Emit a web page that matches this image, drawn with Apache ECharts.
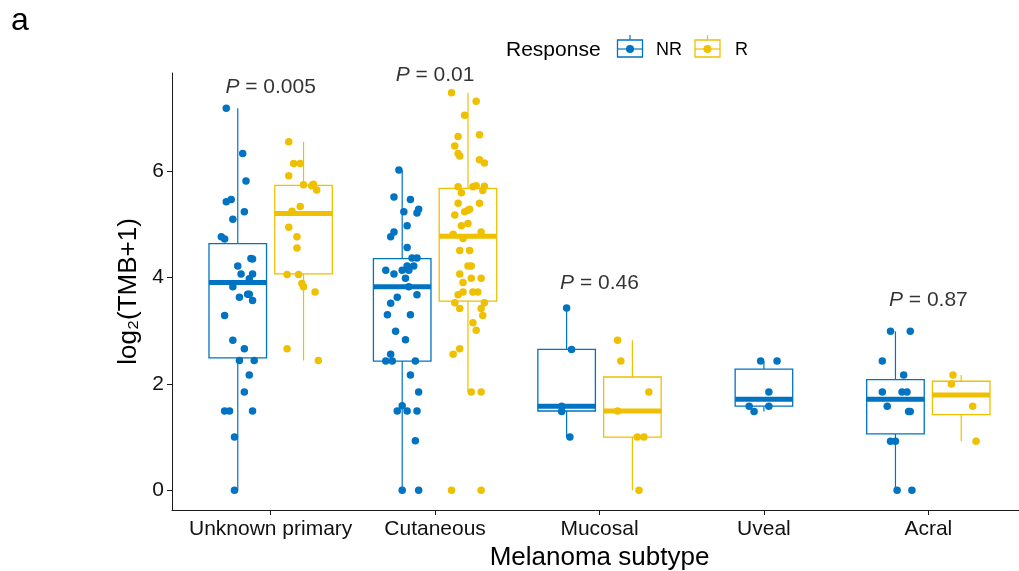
<!DOCTYPE html>
<html><head><meta charset="utf-8">
<script src="https://cdn.jsdelivr.net/npm/echarts@6/dist/echarts.min.js"></script>
<style>html,body{margin:0;padding:0;background:#fff}#c{width:1019px;height:571px}</style>
</head><body><div id="c"></div>
<script>
// ---------------- data ----------------
const categories = ['Unknown primary', 'Cutaneous', 'Mucosal', 'Uveal', 'Acral'];
const yTicks = [0, 2, 4, 6];
const groups = ['NR', 'R'];

// box stats per category: [min(whisker), Q1, median, Q3, max(whisker)]
const nrBoxStats = [
  [0, 2.49, 3.91, 4.64, 7.19],
  [0, 2.43, 3.83, 4.36, 6.03],
  [1.00, 1.49, 1.58, 2.65, 3.43],
  [1.48, 1.58, 1.71, 2.28, 2.43],
  [0, 1.06, 1.71, 2.08, 2.99]
];
const rBoxStats = [
  [2.44, 4.07, 5.21, 5.74, 6.56],
  [1.85, 3.56, 4.78, 5.68, 7.48],
  [0, 1.00, 1.49, 2.13, 2.82],
  null,
  [0.92, 1.42, 1.79, 2.05, 2.17]
];

// individual observations, log2(TMB+1)
const nrValues = [
  [7.19,6.34,5.82,5.43,5.47,5.24,5.10,4.77,4.73,4.36,4.35,4.22,4.07,4.07,3.98,3.83,3.63,3.69,3.69,3.57,3.29,2.82,2.66,2.44,2.44,2.17,1.85,1.49,1.49,1.49,1.00,0],
  [6.03,5.52,5.47,5.24,5.29,5.22,4.98,4.86,4.77,4.57,4.37,4.37,4.22,4.22,4.14,4.07,4.14,4.14,3.99,3.83,3.68,3.63,3.52,3.30,3.30,2.99,2.83,2.56,2.43,2.43,2.43,2.17,1.85,1.59,1.49,1.49,1.49,0.93,0,0],
  [3.43,2.65,1.58,1.48,1.00],
  [2.43,2.43,1.85,1.58,1.58,1.48],
  [2.99,2.99,2.43,2.17,1.85,1.85,1.85,1.58,1.48,1.48,0.92,0.92,0,0]
];
const rValues = [
  [6.56,6.15,6.15,5.92,5.75,5.76,5.73,5.65,5.34,5.25,4.95,4.77,4.56,4.06,4.06,3.89,3.83,3.73,2.66,2.44],
  [7.48,7.32,7.06,6.66,6.69,6.48,6.34,6.29,6.22,6.16,5.71,5.71,5.73,5.72,5.60,5.64,5.40,5.40,5.27,5.24,5.29,5.18,4.98,5.02,4.82,4.74,4.86,4.51,4.51,4.22,4.22,4.07,3.99,3.99,3.91,3.68,3.73,3.73,3.73,3.53,3.42,3.53,3.42,3.29,3.15,3.01,2.66,2.56,1.85,1.85,0,0],
  [2.82,2.43,1.85,1.49,1.00,1.00,0],
  [],
  [2.17,2.00,1.58,0.92]
];
// horizontal jitter of each observation (fraction of a category slot)
const nrJitter = [
  [-0.07,0.03,0.05,-0.07,-0.04,0.04,-0.03,-0.10,-0.08,0.08,0.09,0,0.02,0.09,0.07,-0.03,0.01,0.06,0.07,0.09,-0.08,-0.03,0.04,0.01,0.10,0.07,0.04,-0.08,-0.05,0.09,-0.02,-0.02],
  [-0.02,-0.05,0.05,0.01,0.10,0.09,0.03,-0.05,-0.07,0.03,0.06,0.09,0.03,0.07,-0.10,-0.05,0,0.04,0.02,0.04,0.09,-0.03,-0.07,-0.09,0.05,-0.04,0.02,-0.07,-0.10,-0.06,0.08,0.05,0.10,0,-0.03,0.03,0.09,0.08,0,0.10],
  [0,0.03,-0.03,-0.03,0.02],
  [-0.02,0.08,0.03,-0.09,0.03,-0.06],
  [-0.03,0.09,-0.08,0.05,-0.08,0.04,0.07,-0.05,0.08,0.09,-0.03,0,0.01,0.10]
];
const rJitter = [
  [-0.09,-0.06,-0.02,-0.09,0,0.06,0.05,0.08,-0.02,-0.07,-0.09,-0.04,-0.04,-0.10,-0.03,-0.01,0,0.07,-0.10,0.09],
  [-0.10,0.05,-0.02,-0.06,0.07,-0.08,-0.06,-0.05,0.07,0.10,-0.06,0.03,0.05,0.10,-0.04,0.09,-0.06,0.07,0,-0.02,0.01,-0.08,-0.04,0,-0.09,-0.03,0.08,-0.05,0.01,0,0.02,-0.05,0.02,0.08,-0.03,-0.06,-0.03,0.03,0.06,-0.08,-0.05,0.10,0.08,0.09,0.03,0.05,-0.05,-0.09,0.02,0.08,-0.10,0.08],
  [-0.09,-0.07,0.10,-0.09,0.03,0.07,0.04],
  [],
  [-0.05,-0.06,0.07,0.09]
];

const pValues = ['0.005', '0.01', '0.46', null, '0.87'];
const pLabelY = [7.59, 7.82, 3.90, null, 3.58];

// ---------------- styling ----------------
const FONT = '"Liberation Sans", Arial, Helvetica, sans-serif';
const NR_COLOR = '#0073C2', R_COLOR = '#EFC000';
const DODGE = 0.2, BOX_W = 0.35;
const AXIS_COLOR = '#1a1a1a';

function slotX(i, sign, otherStats) {
  return i + 1 + (otherStats[i] ? sign * DODGE : 0);
}
function boxData(stats, other, sign) {
  const out = [];
  stats.forEach((s, i) => { if (s) out.push([slotX(i, sign, other)].concat(s)); });
  return out;
}
function pointData(vals, jit, other, sign) {
  const out = [];
  vals.forEach((arr, i) => arr.forEach((v, k) => out.push([slotX(i, sign, other) + jit[i][k], v])));
  return out;
}
function renderBox(color) {
  return function (params, api) {
    const x = api.value(0);
    const mn = api.value(1), q1 = api.value(2), md = api.value(3), q3 = api.value(4), mx = api.value(5);
    const half = api.size([BOX_W, 0])[0] / 2;
    const pMin = api.coord([x, mn]), pQ1 = api.coord([x, q1]), pMd = api.coord([x, md]),
          pQ3 = api.coord([x, q3]), pMax = api.coord([x, mx]);
    const cx = pMd[0];
    return {
      type: 'group', children: [
        { type: 'line', shape: { x1: cx, y1: pMax[1], x2: cx, y2: pQ3[1] }, style: { stroke: color, lineWidth: 1.2 } },
        { type: 'line', shape: { x1: cx, y1: pQ1[1], x2: cx, y2: pMin[1] }, style: { stroke: color, lineWidth: 1.2 } },
        { type: 'rect', shape: { x: cx - half, y: pQ3[1], width: 2 * half, height: pQ1[1] - pQ3[1] },
          style: { fill: '#fff', stroke: color, lineWidth: 1.3 } },
        { type: 'line', shape: { x1: cx - half, y1: pMd[1], x2: cx + half, y2: pMd[1] }, style: { stroke: color, lineWidth: 5 } }
      ]
    };
  };
}

const pData = [];
pValues.forEach((p, i) => { if (p) pData.push([i + 1, pLabelY[i], p]); });

const chart = echarts.init(document.getElementById('c'), null, { renderer: 'canvas' });

function legendKey(x, color) {
  return [
    { type: 'line', shape: { x1: x + 12.5, y1: 35, x2: x + 12.5, y2: 40 }, style: { stroke: color, lineWidth: 1.2 } },
    { type: 'rect', shape: { x: x, y: 40, width: 25, height: 17 }, style: { fill: '#fff', stroke: color, lineWidth: 1.3 } },
    { type: 'line', shape: { x1: x, y1: 49, x2: x + 25, y2: 49 }, style: { stroke: color, lineWidth: 1.2 } },
    { type: 'circle', shape: { cx: x + 12.5, cy: 49, r: 4 }, style: { fill: color } }
  ];
}

chart.setOption({
  animation: false,
  backgroundColor: '#fff',
  textStyle: { fontFamily: FONT },
  grid: { left: 172, top: 73, width: 855, height: 437, containLabel: false, outerBoundsMode: 'none' },
  xAxis: {
    type: 'value', min: 0.4, max: 5.6,
    name: 'Melanoma subtype', nameLocation: 'middle', nameGap: 32,
    nameTextStyle: { fontSize: 26, color: '#000', fontFamily: FONT },
    axisLine: { show: true, onZero: false, lineStyle: { color: AXIS_COLOR, width: 1 } },
    axisTick: { show: true, length: 5, customValues: [1, 2, 3, 4, 5], lineStyle: { color: AXIS_COLOR } },
    axisLabel: { customValues: [1, 2, 3, 4, 5], margin: 9, fontSize: 21, color: '#111', fontFamily: FONT,
      formatter: v => categories[Math.round(v) - 1] || '' },
    splitLine: { show: false }
  },
  yAxis: {
    type: 'value', min: -0.374, max: 7.854,
    name: 'log\u2082(TMB+1)', nameLocation: 'middle', nameGap: 27, nameRotate: 90,
    nameTextStyle: { fontSize: 26, color: '#000', fontFamily: FONT },
    axisLine: { show: true, onZero: false, lineStyle: { color: AXIS_COLOR, width: 1 } },
    axisTick: { show: true, length: 5, customValues: yTicks, lineStyle: { color: AXIS_COLOR } },
    axisLabel: { customValues: yTicks, margin: 8, fontSize: 21, color: '#111', fontFamily: FONT },
    splitLine: { show: false }
  },
  series: [
    { type: 'custom', name: 'NR-box', renderItem: renderBox(NR_COLOR), encode: { x: 0, y: [1, 2, 3, 4, 5] },
      data: boxData(nrBoxStats, rBoxStats, -1), silent: true, z: 2 },
    { type: 'custom', name: 'R-box', renderItem: renderBox(R_COLOR), encode: { x: 0, y: [1, 2, 3, 4, 5] },
      data: boxData(rBoxStats, nrBoxStats, 1), silent: true, z: 2 },
    { type: 'scatter', name: 'NR', symbol: 'circle', symbolSize: 7.5, itemStyle: { color: NR_COLOR, opacity: 1 },
      data: pointData(nrValues, nrJitter, rBoxStats, -1), z: 3, silent: true },
    { type: 'scatter', name: 'R', symbol: 'circle', symbolSize: 7.5, itemStyle: { color: R_COLOR, opacity: 1 },
      data: pointData(rValues, rJitter, nrBoxStats, 1), z: 3, silent: true },
    { type: 'scatter', name: 'pvals', symbolSize: 0, data: pData, z: 4, silent: true,
      label: { show: true, position: 'inside', fontSize: 21, color: '#000', fontFamily: FONT,
        formatter: p => '{i|P}{n| = ' + p.data[2] + '}',
        rich: { i: { fontStyle: 'italic', fontSize: 21, color: '#000', fontFamily: FONT },
                n: { fontSize: 21, color: '#000', fontFamily: FONT } } } }
  ],
  graphic: [
    { type: 'text', left: 11, top: 5, style: { text: 'a', fontSize: 32, fill: '#000', fontFamily: FONT } },
    { type: 'text', x: 506, y: 50, style: { text: 'Response', fontSize: 21, fill: '#000', fontFamily: FONT, textVerticalAlign: 'middle' } },
    { type: 'group', children: legendKey(617.5, NR_COLOR) },
    { type: 'text', x: 656, y: 50, style: { text: 'NR', fontSize: 18, fill: '#000', fontFamily: FONT, textVerticalAlign: 'middle' } },
    { type: 'group', children: legendKey(695, R_COLOR) },
    { type: 'text', x: 735, y: 50, style: { text: 'R', fontSize: 18, fill: '#000', fontFamily: FONT, textVerticalAlign: 'middle' } }
  ]
});
</script></body></html>
